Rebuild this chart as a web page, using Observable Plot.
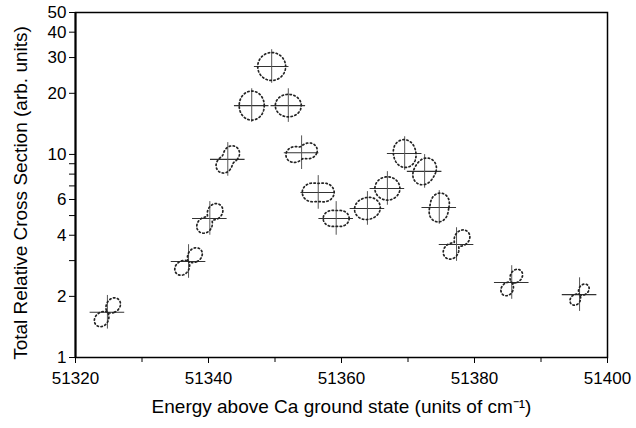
<!DOCTYPE html>
<html><head><meta charset="utf-8">
<script src="https://cdn.jsdelivr.net/npm/d3@7"></script>
<script src="https://cdn.jsdelivr.net/npm/@observablehq/plot@0.6"></script>
<style>
html,body{margin:0;padding:0;background:#fff;}
#chart svg{display:block;}
</style></head><body><div id="chart"></div>
<script>
// Data
const energy = [51324.8, 51337.0, 51340.2, 51342.9, 51346.5, 51349.5, 51352.0, 51354.0, 51356.5, 51359.2, 51363.9, 51366.9, 51369.5, 51372.5, 51374.7, 51377.3, 51385.6, 51395.8];
const crossSection = [1.67, 2.97, 4.84, 9.45, 17.4, 27.1, 17.4, 10.2, 6.5, 4.84, 5.42, 6.8, 10.1, 8.25, 5.48, 3.6, 2.34, 2.04];
const energyErr = [2.6, 2.6, 2.6, 2.6, 2.6, 2.6, 2.6, 2.6, 2.6, 2.6, 2.6, 2.6, 2.6, 2.6, 2.6, 2.6, 2.6, 2.6];
const relErr = [0.21, 0.21, 0.21, 0.21, 0.21, 0.21, 0.21, 0.21, 0.21, 0.21, 0.21, 0.21, 0.21, 0.21, 0.21, 0.21, 0.21, 0.21];
// angular distribution of each point: anisotropy beta and axis angle (degrees)
const beta = [2.0, 2.0, 1.2, 0.6, 0.1, 0.0, 0.1, 0.7, 0.4, 0.35, 0.12, 0.05, 0.15, 0.2, 0.3, 1.2, 2.0, 2.0];
const axisAngle = [50, 45, 52, 55, 90, 0, 0, 15, 0, 0, 15, 0, 100, 60, 80, 50, 55, 50];
const lobeSize = [2.56, 2.56, 2.56, 2.26, 2.18, 2.1, 1.95, 2.4, 2.4, 1.95, 1.95, 1.88, 2.1, 2.1, 2.18, 2.56, 2.26, 1.88];

const xDomain = [51320, 51400];
const yDomain = [1, 50];
const xTicks = [51320, 51340, 51360, 51380, 51400];
const xMinorTicks = [51330, 51350, 51370, 51390];
const yTicks = [1, 2, 4, 6, 8, 10, 20, 30, 40, 50];
const yMinorTicks = [3, 5, 7, 9];
const xLabel = "Energy above Ca ground state (units of cm⁻¹)";
const yLabel = "Total Relative Cross Section (arb. units)";

const W = 636, H = 428, ML = 75, MR = 29, MT = 12, MB = 71;
// aspect ratio: decades of y per energy unit so lobes are drawn round
const k = ((W - ML - MR) / (xDomain[1] - xDomain[0])) / ((H - MT - MB) / Math.log10(yDomain[1] / yDomain[0]));

const pts = energy.map((e, i) => ({e, y: crossSection[i], xe: energyErr[i], re: relErr[i]}));
const shape = [];
energy.forEach((e, i) => {
  const b = beta[i], phi = axisAngle[i] * Math.PI / 180, s = lobeSize[i], y0 = crossSection[i];
  for (let a = 0; a < 360; a += 3) {
    const t = a * Math.PI / 180;
    const c = Math.cos(t - phi);
    const r = s * (1 + b * (3 * c * c - 1) / 2) / (1 + b);
    shape.push({id: i, x: e + r * Math.cos(t), y: y0 * Math.pow(10, r * Math.sin(t) * k)});
  }
});

const chart = Plot.plot({
  width: W, height: H, marginLeft: ML, marginRight: MR, marginTop: MT, marginBottom: MB,
  x: {domain: xDomain},
  y: {type: "log", domain: yDomain},
  style: {fontFamily: "'Liberation Sans', Arial, sans-serif", fontSize: "17px", color: "black", background: "white"},
  marks: [
    Plot.frame({stroke: "black", strokeWidth: 1.5}),
    Plot.ruleX([xDomain[0]], {stroke: "black", strokeWidth: 2}),
    Plot.axisX(xTicks, {tickSize: 6, tickPadding: 8, fontSize: 17, label: null, tickFormat: d => String(d)}),
    Plot.axisX(xMinorTicks, {tickSize: 5, tickFormat: () => "", label: null}),
    Plot.axisY(yTicks, {tickSize: 6, tickPadding: 3, fontSize: 17, label: null, tickFormat: d => String(d)}),
    Plot.axisY(yMinorTicks, {tickSize: 6, tickFormat: () => "", label: null}),
    Plot.ruleY(pts, {y: "y", x1: d => d.e - d.xe, x2: d => d.e + d.xe, stroke: "#333", strokeWidth: 1.1}),
    Plot.ruleX(pts, {x: "e", y1: d => d.y / (1 + d.re), y2: d => d.y * (1 + d.re), stroke: "#555", strokeWidth: 1}),
    Plot.line(shape, {x: "x", y: "y", z: "id", curve: "linear-closed", stroke: "#222", strokeWidth: 1.7, strokeDasharray: "1.4,2.6"}),
    Plot.text([xLabel], {text: d => d, frameAnchor: "bottom", dy: 55, fontSize: 19}),
    Plot.text([yLabel], {text: d => d, frameAnchor: "left", textAnchor: "middle", dx: -55, dy: 8, rotate: -90, fontSize: 19})
  ]
});
document.getElementById("chart").append(chart);
</script>
</body></html>
